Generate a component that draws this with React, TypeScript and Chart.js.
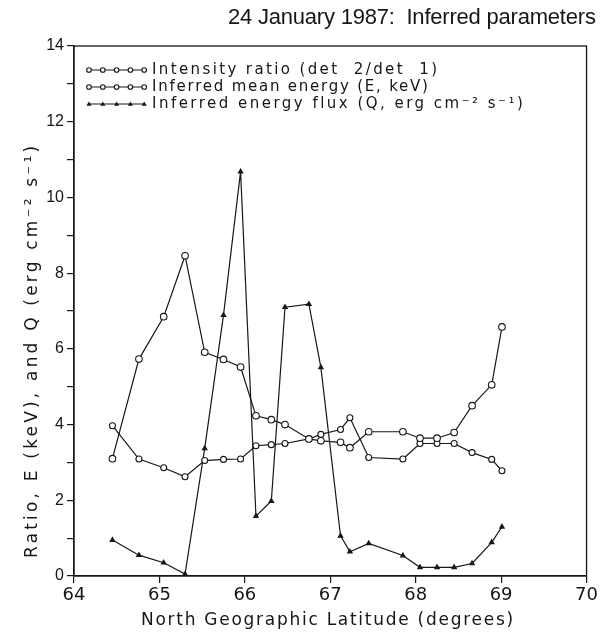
import React, { useEffect, useRef } from "react";
import { Chart, registerables } from "chart.js";

Chart.register(...registerables);

// ---- data ----
const latitude = [
  64.45, 64.76, 65.05, 65.3, 65.53, 65.75, 65.95, 66.13, 66.31, 66.47, 66.75,
  66.89, 67.12, 67.23, 67.45, 67.85, 68.05, 68.25, 68.45, 68.66, 68.89, 69.01,
];
const intensityRatio = [
  3.1, 5.73, 6.85, 8.46, 5.91, 5.72, 5.52, 4.23, 4.13, 4.0, 3.62, 3.57, 3.53,
  3.39, 3.81, 3.81, 3.64, 3.64, 3.79, 4.5, 5.05, 6.58,
];
const meanEnergy = [
  3.97, 3.09, 2.86, 2.62, 3.05, 3.08, 3.09, 3.44, 3.47, 3.5, 3.62, 3.74, 3.87,
  4.18, 3.13, 3.09, 3.5, 3.5, 3.5, 3.26, 3.08, 2.78,
];
const energyFlux = [
  0.95, 0.55, 0.35, 0.05, 3.37, 6.89, 10.68, 1.58, 1.98, 7.1, 7.18, 5.51, 1.06,
  0.64, 0.86, 0.54, 0.23, 0.23, 0.23, 0.33, 0.89, 1.3,
];
const xRange = [64, 70];
const yRange = [0, 14];
const yLabelledTicks = [0, 2, 4, 6, 8, 10, 12, 14];

const TITLE = "24 January 1987:  Inferred parameters";
const X_LABEL = "North Geographic Latitude (degrees)";
const Y_LABEL = "Ratio, E (keV), and Q (erg cm\u207B\u00B2 s\u207B\u00B9)";
const seriesNames = [
  "Intensity ratio (det  2/det  1)",
  "Inferred mean energy (E, keV)",
  "Inferred energy flux (Q, erg cm\u207B\u00B2 s\u207B\u00B9)",
];

const FONT = "'Liberation Sans', Arial, sans-serif";
const WIDE = "'DejaVu Sans', 'Liberation Sans', sans-serif";
const INK = "#161616";

function toPoints(ys: number[]) {
  return latitude.map((x, i) => ({ x, y: ys[i] }));
}

// draw text starting at x, stretched with letter spacing to reach width
function fitText(
  ctx: any,
  text: string,
  x: number,
  y: number,
  width: number,
  size: number,
  family: string = WIDE
) {
  ctx.font = `${size}px ${family}`;
  ctx.letterSpacing = "0px";
  const w = ctx.measureText(text).width;
  const n = Math.max(text.length - 1, 1);
  const sp = (width - w) / n;
  ctx.letterSpacing = `${sp.toFixed(2)}px`;
  ctx.textAlign = "left";
  ctx.fillText(text, x, y);
  ctx.letterSpacing = "0px";
}

const decorPlugin = {
  id: "decor",
  afterDraw(chart: any) {
    const { ctx, chartArea } = chart;
    const { left, right, top, bottom } = chartArea;
    ctx.save();
    // frame
    ctx.strokeStyle = INK;
    ctx.lineWidth = 1.3;
    ctx.strokeRect(left, top, right - left, bottom - top);

    ctx.fillStyle = INK;
    ctx.textBaseline = "middle";
    // title
    fitText(ctx, TITLE, 228, 18, 368, 22, FONT);

    // x label
    fitText(ctx, X_LABEL, 141, 621, 372, 17);

    // y label
    ctx.save();
    ctx.translate(33, 558);
    ctx.rotate(-Math.PI / 2);
    ctx.textBaseline = "middle";
    fitText(ctx, Y_LABEL, 0, 0, 412, 17);
    ctx.restore();

    // legend
    const rows = [70, 87, 104];
    const ends = [437, 428, 523];
    const styles = ["circle", "circle", "triangle"];
    rows.forEach((y, i) => {
      ctx.strokeStyle = INK;
      ctx.lineWidth = 1.1;
      ctx.beginPath();
      ctx.moveTo(88, y);
      ctx.lineTo(145, y);
      ctx.stroke();
      for (let k = 0; k < 5; k++) {
        const px = 89 + k * 13.8;
        if (styles[i] === "circle") {
          ctx.beginPath();
          ctx.arc(px, y, 2.3, 0, Math.PI * 2);
          ctx.fillStyle = "#fff";
          ctx.fill();
          ctx.stroke();
        } else {
          ctx.beginPath();
          ctx.moveTo(px, y - 2.5);
          ctx.lineTo(px + 2.6, y + 1.8);
          ctx.lineTo(px - 2.6, y + 1.8);
          ctx.closePath();
          ctx.fillStyle = INK;
          ctx.fill();
        }
      }
      ctx.fillStyle = INK;
      ctx.textBaseline = "middle";
      fitText(ctx, seriesNames[i], 152, y, ends[i] - 152, 15);
    });
    ctx.restore();
  },
};

export default function App() {
  const ref = useRef<HTMLCanvasElement | null>(null);

  useEffect(() => {
    document.body.style.margin = "0";
    const canvas = ref.current;
    if (!canvas) return;
    const common = {
      borderColor: INK,
      borderWidth: 1.2,
      pointBorderColor: INK,
      pointBorderWidth: 1.1,
      tension: 0,
      fill: false,
    };
    const chart = new Chart(canvas, {
      type: "line",
      data: {
        datasets: [
          {
            ...common,
            label: seriesNames[0],
            data: toPoints(intensityRatio),
            pointStyle: "circle",
            pointRadius: 3.3,
            pointBackgroundColor: "#fff",
          },
          {
            ...common,
            label: seriesNames[1],
            data: toPoints(meanEnergy),
            pointStyle: "circle",
            pointRadius: 3,
            pointBackgroundColor: "#fff",
          },
          {
            ...common,
            label: seriesNames[2],
            data: toPoints(energyFlux),
            pointStyle: "triangle",
            pointRadius: 2.6,
            pointBackgroundColor: INK,
          },
        ],
      },
      options: {
        responsive: false,
        animation: false,
        events: [],
        layout: { padding: { top: 46, right: 13, left: 0, bottom: 0 } },
        plugins: {
          legend: { display: false },
          title: { display: false },
          tooltip: { enabled: false },
        },
        scales: {
          x: {
            type: "linear",
            min: xRange[0],
            max: xRange[1],
            afterFit: (s: any) => {
              s.height = 58;
            },
            ticks: {
              stepSize: 1,
              color: INK,
              font: { family: WIDE, size: 18 },
              padding: 2,
            },
            grid: {
              drawOnChartArea: false,
              drawTicks: true,
              tickLength: 7,
              color: INK,
              lineWidth: 1.2,
            },
            border: { display: true, color: INK, width: 1.3 },
          },
          y: {
            type: "linear",
            min: yRange[0],
            max: yRange[1],
            afterFit: (s: any) => {
              s.width = 74;
            },
            ticks: {
              stepSize: 1,
              color: INK,
              font: { family: FONT, size: 16 },
              padding: 3,
              autoSkip: false,
              callback: (v: any) =>
                yLabelledTicks.includes(Number(v)) ? String(v) : "",
            },
            grid: {
              drawOnChartArea: false,
              drawTicks: true,
              tickLength: 7,
              color: INK,
              lineWidth: 1.2,
            },
            border: { display: true, color: INK, width: 1.3 },
          },
        },
      },
      plugins: [decorPlugin],
    } as any);
    return () => chart.destroy();
  }, []);

  return (
    <div style={{ width: 600, height: 634, background: "#fff" }}>
      <canvas
        ref={ref}
        width={600}
        height={634}
        style={{ display: "block", width: 600, height: 634 }}
      />
    </div>
  );
}
